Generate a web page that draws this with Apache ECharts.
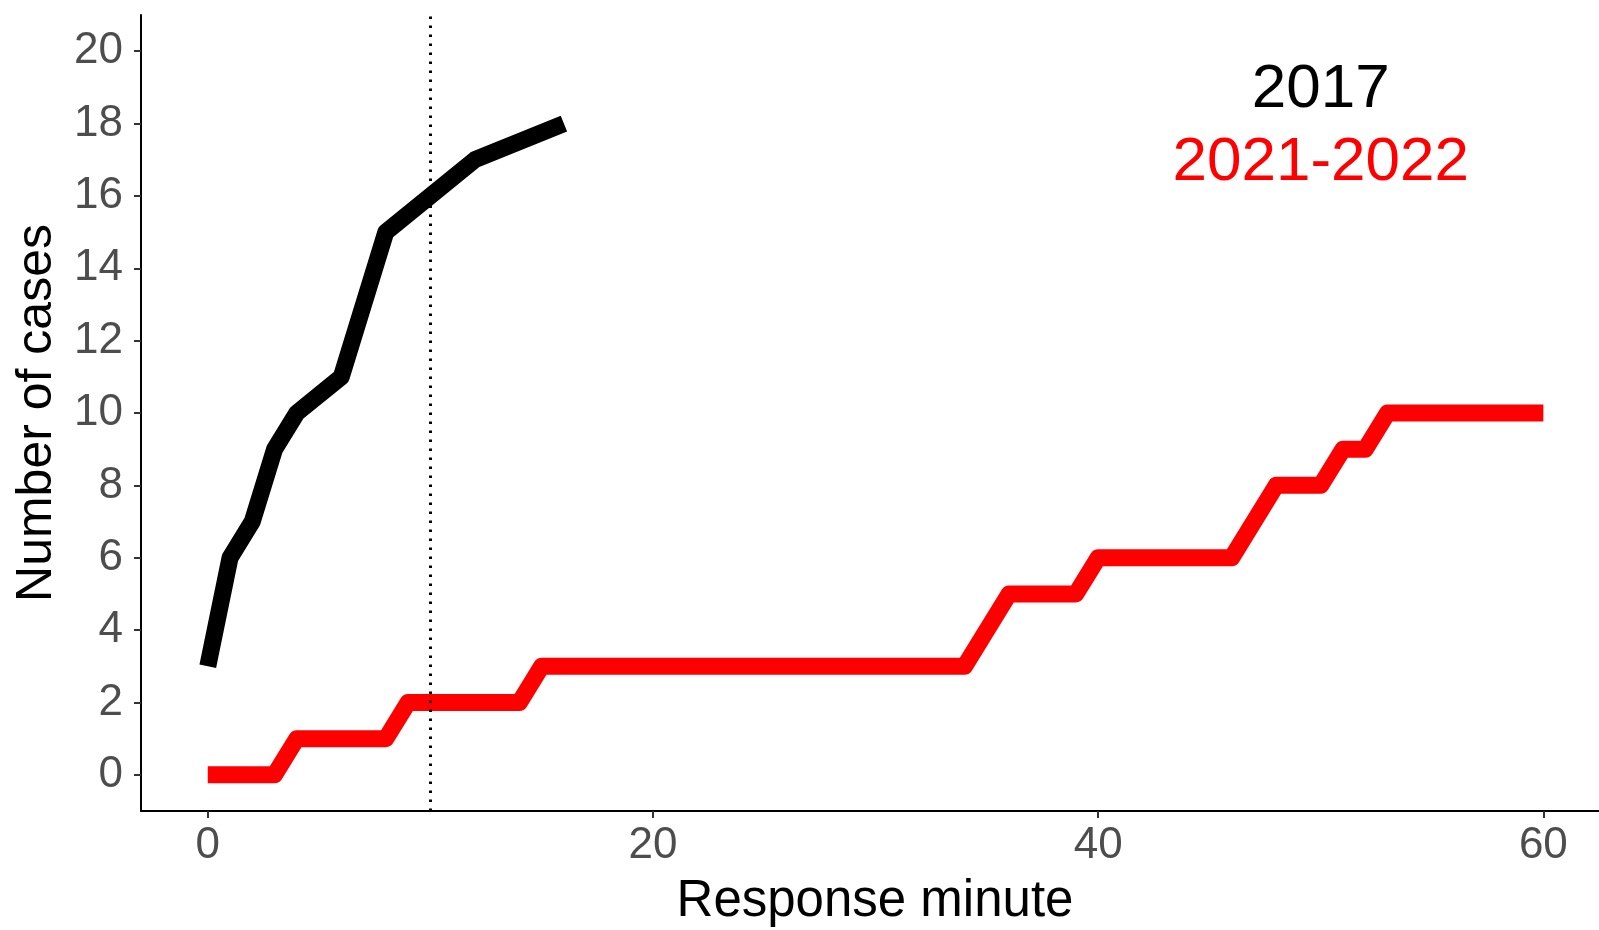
<!DOCTYPE html>
<html>
<head>
<meta charset="utf-8">
<script src="https://cdn.jsdelivr.net/npm/echarts@6/dist/echarts.min.js"></script>
<style>html,body{margin:0;padding:0;background:#fff}#chart{width:1599px;height:930px}</style>
</head>
<body>
<div id="chart"></div>
<script>
const x2017 = [0, 1, 2, 3, 4, 6, 8, 12, 16];
const y2017 = [3, 6, 7, 9, 10, 11, 15, 17, 18];
const x2122 = [0, 3, 4, 8, 9, 14, 15, 34, 36, 39, 40, 46, 48, 50, 51, 52, 53, 60];
const y2122 = [0, 0, 1, 1, 2, 2, 3, 3, 5, 5, 6, 6, 8, 8, 9, 9, 10, 10];
const xTicks = [0, 20, 40, 60];
const yTicks = [0, 2, 4, 6, 8, 10, 12, 14, 16, 18, 20];
const vlineX = 10;
const labelText = ['2017', '2021-2022'];
const labelX = [50, 50];
const labelY = [19, 17];
const labelColor = ['#000000', '#FF0000'];

const font = 'Liberation Sans, Arial, sans-serif';
const chart = echarts.init(document.getElementById('chart'), null, {renderer: 'canvas'});
chart.setOption({
  animation: false,
  backgroundColor: '#ffffff',
  grid: {left: 141, top: 15, right: 0, bottom: 119, containLabel: false, outerBoundsMode: 'none'},
  xAxis: {
    type: 'value', min: -3, max: 62.5,
    name: 'Response minute', nameLocation: 'middle', nameGap: 65,
    nameTextStyle: {fontSize: 51, color: '#000', fontFamily: font, padding: [0, 0, 0, 10]},
    axisLine: {show: true, onZero: false, lineStyle: {color: '#000', width: 2}},
    axisTick: {show: true, length: 7, customValues: xTicks, lineStyle: {color: '#333', width: 2}},
    axisLabel: {customValues: xTicks, fontSize: 44, color: '#4D4D4D', fontFamily: font, margin: 13},
    splitLine: {show: false}
  },
  yAxis: {
    type: 'value', min: -1, max: 21,
    name: 'Number of cases', nameLocation: 'middle', nameGap: 79, nameRotate: 90,
    nameTextStyle: {fontSize: 50, color: '#000', fontFamily: font},
    axisLine: {show: true, onZero: false, lineStyle: {color: '#000', width: 2}},
    axisTick: {show: true, length: 7, customValues: yTicks, lineStyle: {color: '#333', width: 2}},
    axisLabel: {customValues: yTicks, fontSize: 44, color: '#4D4D4D', fontFamily: font, margin: 18},
    splitLine: {show: false}
  },
  series: [
    {
      type: 'line', name: '2021-2022', showSymbol: false, symbol: 'none',
      data: x2122.map((x, i) => [x, y2122[i]]),
      lineStyle: {color: '#FF0000', width: 17, cap: 'butt', join: 'round'},
      z: 2
    },
    {
      type: 'line', name: '2017', showSymbol: false, symbol: 'none',
      data: x2017.map((x, i) => [x, y2017[i]]),
      lineStyle: {color: '#000000', width: 17, cap: 'butt', join: 'round'},
      z: 3
    },
    {
      type: 'line', data: [], z: 4,
      markLine: {
        silent: true, symbol: ['none', 'none'], label: {show: false},
        lineStyle: {color: '#000', width: 3, type: [2.5, 6.5]},
        data: [{xAxis: vlineX}]
      }
    },
    {
      type: 'scatter', symbolSize: 0, z: 5,
      itemStyle: {opacity: 1},
      data: labelText.map((t, i) => ({
        value: [labelX[i], labelY[i]],
        label: {show: true, position: 'inside', offset: [0, 3], formatter: t, fontSize: 62, color: labelColor[i], opacity: 1, fontFamily: font}
      }))
    }
  ]
});
</script>
</body>
</html>
